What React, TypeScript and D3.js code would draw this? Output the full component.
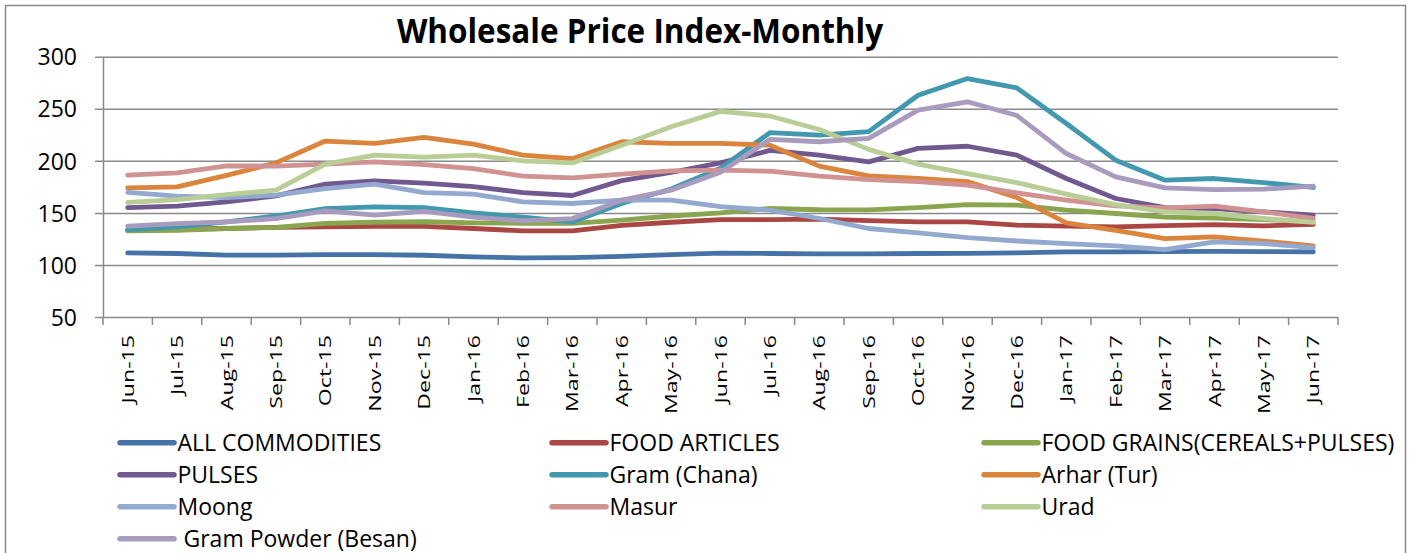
import { axisLeft, line, scaleLinear, scalePoint, select } from "d3";
import React, { useEffect, useRef } from "react";

const months = [
  "Jun-15", "Jul-15", "Aug-15", "Sep-15", "Oct-15", "Nov-15", "Dec-15",
  "Jan-16", "Feb-16", "Mar-16", "Apr-16", "May-16", "Jun-16", "Jul-16",
  "Aug-16", "Sep-16", "Oct-16", "Nov-16", "Dec-16", "Jan-17", "Feb-17",
  "Mar-17", "Apr-17", "May-17", "Jun-17",
];

const yTicks = [50, 100, 150, 200, 250, 300];

const allCommodities = [111.5, 111.0, 109.5, 109.5, 110.0, 110.0, 109.3, 107.7, 106.7, 107.0, 108.3, 110.0, 111.3, 111.0, 110.7, 110.7, 111.0, 111.2, 111.5, 112.5, 112.5, 112.8, 113.0, 112.8, 112.5];
const foodArticles = [133.3, 134.5, 135.0, 136.0, 136.5, 137.0, 137.0, 135.0, 132.7, 132.7, 138.0, 141.0, 143.5, 143.6, 144.0, 142.6, 141.3, 141.3, 138.3, 137.2, 136.5, 137.8, 138.8, 137.5, 139.0];
const foodGrains = [132.7, 133.3, 135.0, 136.0, 140.0, 141.0, 141.5, 140.4, 140.0, 140.0, 143.0, 147.0, 150.0, 154.2, 153.0, 152.9, 155.0, 158.0, 157.4, 152.6, 149.4, 146.0, 145.0, 143.6, 141.4];
const pulses = [155.0, 156.4, 160.6, 166.4, 177.6, 180.8, 178.5, 175.3, 169.5, 166.7, 181.0, 189.0, 198.0, 210.0, 205.4, 199.0, 212.0, 214.0, 205.4, 183.0, 163.8, 155.0, 154.2, 151.0, 147.8];
const gram = [134.0, 136.5, 141.3, 147.0, 154.0, 155.7, 155.0, 150.0, 146.0, 141.3, 159.0, 173.0, 193.0, 227.0, 224.7, 228.0, 263.0, 279.0, 270.0, 235.8, 200.6, 181.4, 183.0, 179.0, 174.4];
const arhar = [174.0, 175.0, 186.0, 198.0, 219.0, 216.7, 222.5, 216.0, 205.4, 202.0, 218.3, 216.7, 216.7, 215.0, 194.9, 185.6, 183.0, 180.0, 164.7, 140.4, 133.3, 125.3, 127.0, 122.8, 118.3];
const moong = [169.6, 166.0, 164.7, 167.0, 173.4, 177.6, 169.5, 168.0, 160.6, 159.0, 162.2, 162.2, 156.0, 152.6, 144.6, 135.0, 130.8, 126.3, 123.0, 120.5, 118.3, 114.8, 122.2, 120.5, 116.7];
const masur = [186.2, 188.5, 195.2, 194.9, 196.8, 199.0, 196.3, 192.6, 185.3, 183.7, 187.2, 190.4, 191.0, 190.0, 185.3, 182.0, 180.0, 176.6, 169.3, 162.2, 156.7, 154.8, 156.4, 151.0, 144.6];
const urad = [160.0, 162.8, 167.6, 171.8, 196.8, 205.4, 203.5, 205.4, 200.0, 198.0, 215.0, 232.7, 247.5, 243.0, 230.1, 211.0, 196.8, 187.8, 179.0, 168.0, 158.0, 151.0, 149.4, 144.6, 140.8];
const gramPowder = [137.2, 139.7, 141.3, 144.5, 152.0, 147.8, 151.5, 146.0, 142.3, 144.5, 162.2, 171.8, 189.0, 220.5, 218.3, 221.5, 248.7, 256.7, 243.5, 207.0, 184.6, 174.0, 172.4, 172.8, 175.6];

const series = [
  { name: "ALL COMMODITIES", color: "#4572A7", data: allCommodities },
  { name: "FOOD ARTICLES", color: "#AA4643", data: foodArticles },
  { name: "FOOD GRAINS(CEREALS+PULSES)", color: "#89A54E", data: foodGrains },
  { name: "PULSES", color: "#71588F", data: pulses },
  { name: "Gram (Chana)", color: "#4198AF", data: gram },
  { name: "Arhar (Tur)", color: "#DB843D", data: arhar },
  { name: "Moong", color: "#93A9CF", data: moong },
  { name: "Masur", color: "#D19392", data: masur },
  { name: "Urad", color: "#B9CD96", data: urad },
  { name: " Gram Powder (Besan)", color: "#A99BBD", data: gramPowder },
];

const W = 1413;
const H = 553;
const left = 103;
const right = 1338;
const top = 56.7;
const bottom = 317;
const font = "'Open Sans', sans-serif";

export default function App() {
  const svgRef = useRef<SVGSVGElement>(null);

  useEffect(() => {
    const svg = select(svgRef.current);
    svg.selectAll("*").remove();

    const xScale = scalePoint<string>().domain(months).range([left, right]).padding(0.5);
    const step = xScale.step();
    const yScale = scaleLinear().domain([50, 300]).range([bottom, top]);

    // outer frame
    svg
      .append("rect")
      .attr("x", 5.5)
      .attr("y", 5.5)
      .attr("width", 1400)
      .attr("height", 600)
      .attr("fill", "white")
      .attr("stroke", "#8a8a8a")
      .attr("stroke-width", 1.5);

    svg
      .append("text")
      .attr("x", 640)
      .attr("y", 43.3)
      .attr("text-anchor", "middle")
      .attr("font-family", font)
      .attr("font-weight", "bold")
      .attr("font-size", 33.5)
      .attr("transform", "translate(640,0) scale(0.94,1) translate(-640,0)")
      .text("Wholesale Price Index-Monthly");

    // y axis with gridlines
    const yAxis = axisLeft(yScale)
      .tickValues(yTicks)
      .tickSize(-(right - left))
      .tickSizeOuter(0)
      .tickPadding(26)
      .tickFormat((d) => String(d));

    const gy = svg.append("g").attr("transform", `translate(${left},0)`).call(yAxis);
    gy.select(".domain").attr("stroke", "#8a8a8a").attr("stroke-width", 1.5);
    gy.selectAll(".tick line")
      .attr("x1", -8)
      .attr("stroke", "#8a8a8a")
      .attr("stroke-width", 1.5);
    gy.selectAll(".tick text")
      .attr("font-family", font)
      .attr("font-size", 23)
      .attr("fill", "#000")
      .attr("dy", "0.357em");

    // x ticks at category boundaries
    const gx = svg.append("g");
    gx.selectAll("line")
      .data(months.concat(["end"]))
      .join("line")
      .attr("x1", (_, i) => left + i * step)
      .attr("x2", (_, i) => left + i * step)
      .attr("y1", bottom)
      .attr("y2", bottom + 8)
      .attr("stroke", "#8a8a8a")
      .attr("stroke-width", 1.5);

    gx.selectAll("text")
      .data(months)
      .join("text")
      .attr("transform", (d) => `translate(${xScale(d)},335) rotate(-90) scale(1.36,1)`)
      .attr("text-anchor", "end")
      .attr("dy", "0.357em")
      .attr("font-family", font)
      .attr("font-size", 17)
      .text((d) => d);

    const lineGenerator = line<number>()
      .x((_, i) => xScale(months[i]) as number)
      .y((d) => yScale(d));

    series.forEach((s) => {
      svg
        .append("path")
        .datum(s.data)
        .attr("d", lineGenerator)
        .attr("fill", "none")
        .attr("stroke", s.color)
        .attr("stroke-width", 4.8)
        .attr("stroke-linecap", "round")
        .attr("stroke-linejoin", "round");
    });

    // legend
    const legend = svg.append("g");
    series.forEach((s, i) => {
      const col = i % 3;
      const row = Math.floor(i / 3);
      const x0 = 120 + col * 432;
      const y0 = 442.7 + row * 32;
      legend
        .append("line")
        .attr("x1", x0)
        .attr("x2", x0 + 54)
        .attr("y1", y0)
        .attr("y2", y0)
        .attr("stroke", s.color)
        .attr("stroke-width", 5.5)
        .attr("stroke-linecap", "round");
      legend
        .append("text")
        .attr("x", x0 + 57.5)
        .attr("y", y0)
        .attr("dy", "0.357em")
        .attr("font-family", font)
        .attr("font-size", 23)
        .style("white-space", "pre")
        .text(s.name);
    });
  }, []);

  return (
    <svg
      ref={svgRef}
      width={W}
      height={H}
      style={{ position: "absolute", left: 0, top: 0, display: "block", background: "white" }}
    />
  );
}
